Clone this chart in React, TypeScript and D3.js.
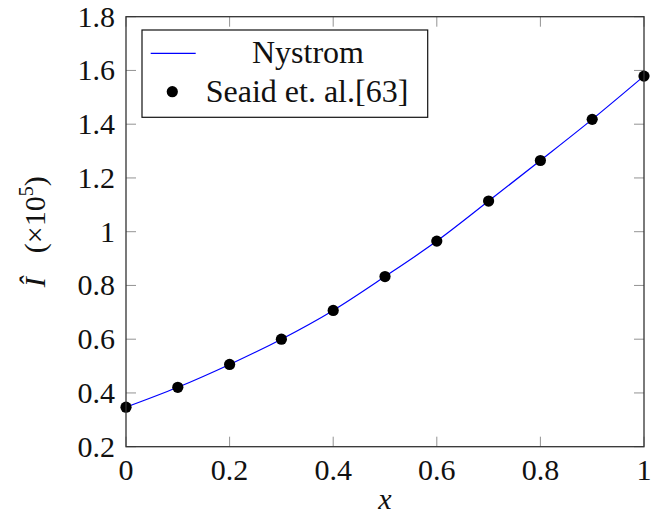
import React from "react";
import * as d3 from "d3";

const xValues = [0, 0.1, 0.2, 0.3, 0.4, 0.5, 0.6, 0.7, 0.8, 0.9, 1.0];
const nystromValues = [0.347, 0.421, 0.506, 0.600, 0.707, 0.833, 0.965, 1.114, 1.265, 1.418, 1.579];
const seaidValues = [0.347, 0.421, 0.506, 0.600, 0.707, 0.833, 0.965, 1.114, 1.265, 1.418, 1.579];
const xTicks = [0, 0.2, 0.4, 0.6, 0.8, 1];
const yTicks = [0.2, 0.4, 0.6, 0.8, 1, 1.2, 1.4, 1.6, 1.8];
const legendLabels = ["Nystrom", "Seaid et. al.[63]"];

const W = 651, H = 519;
const L = 126, R = 644, T = 16.7, B = 446.7;
const FONT = "Liberation Serif";
const TICK = 10;

const tickStyle: React.CSSProperties = { fontFamily: FONT, fontSize: "30px" };
const legStyle: React.CSSProperties = { fontFamily: FONT, fontSize: "32px" };
const italStyle: React.CSSProperties = { fontFamily: FONT, fontSize: "30px", fontStyle: "italic" };

export default function App() {
  const x = d3.scaleLinear().domain([0, 1]).range([L, R]);
  const y = d3.scaleLinear().domain([0.2, 1.8]).range([B, T]);
  const line = d3
    .line<number>()
    .x((_, i) => x(xValues[i]))
    .y((d) => y(d))
    .curve(d3.curveMonotoneX);
  const fmt = (v: number) => String(v);

  return (
    <svg width={W} height={H} style={{ position: "absolute", left: 0, top: 0, fontFamily: FONT }}>
      <rect x={0} y={0} width={W} height={H} fill="white" />
      {xTicks.map((t) => (
        <g key={"xt" + t} stroke="#777" strokeWidth={0.8}>
          <line x1={x(t)} x2={x(t)} y1={B} y2={B - TICK} />
          <line x1={x(t)} x2={x(t)} y1={T} y2={T + TICK} />
        </g>
      ))}
      {yTicks.map((t) => (
        <g key={"yt" + t} stroke="#777" strokeWidth={0.8}>
          <line x1={L} x2={L + TICK} y1={y(t)} y2={y(t)} />
          <line x1={R} x2={R - TICK} y1={y(t)} y2={y(t)} />
        </g>
      ))}
      <path d={line(nystromValues) || ""} fill="none" stroke="#0000ff" strokeWidth={1.2} />
      {seaidValues.map((v, i) => (
        <circle key={"p" + i} cx={x(xValues[i])} cy={y(v)} r={5.6} fill="black" />
      ))}
      <rect x={L} y={T} width={R - L} height={B - T} fill="none" stroke="#333" strokeWidth={1.3} />
      {xTicks.map((t) => (
        <text key={"xl" + t} x={x(t)} y={480} textAnchor="middle" fill="#111" style={tickStyle}>
          {fmt(t)}
        </text>
      ))}
      {yTicks.map((t) => (
        <text key={"yl" + t} x={115} y={y(t) + 10} textAnchor="end" fill="#111" style={tickStyle}>
          {fmt(t)}
        </text>
      ))}
      <text x={385} y={509} textAnchor="middle" fill="#111" style={italStyle}>
        x
      </text>
      <text
        transform={`translate(45, ${(T + B) / 2}) rotate(-90)`}
        textAnchor="middle"
        fill="#111"
        style={tickStyle}
      >
        <tspan style={{ fontStyle: "italic" }}>Î</tspan>
        <tspan dx={24}>(×10</tspan>
        <tspan dy={-12} style={{ fontSize: "20px" }}>5</tspan>
        <tspan dy={12}>)</tspan>
      </text>
      <rect x={142} y={30} width={285.7} height={87.3} fill="white" stroke="#111" strokeWidth={1.2} />
      <line x1={150.7} x2={195.7} y1={53.3} y2={53.3} stroke="#0000ff" strokeWidth={1.2} />
      <circle cx={172.3} cy={91.7} r={5.6} fill="black" />
      <text x={308} y={63} textAnchor="middle" fill="#111" style={legStyle}>
        {legendLabels[0]}
      </text>
      <text x={307} y={101.7} textAnchor="middle" fill="#111" style={legStyle}>
        {legendLabels[1]}
      </text>
    </svg>
  );
}
